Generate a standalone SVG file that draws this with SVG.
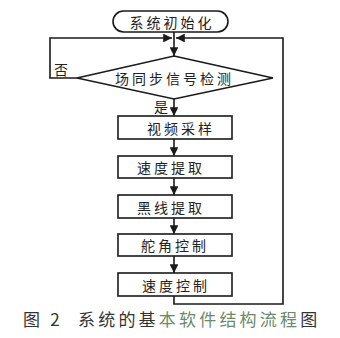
<svg xmlns="http://www.w3.org/2000/svg" width="340" height="338" viewBox="0 0 340 338">
<style>
.s{fill:#fff;stroke:#1a1a1a;stroke-width:1.6}
.c{fill:none;stroke:#1a1a1a;stroke-width:1.6}
.t{font-family:"Noto Sans CJK SC",sans-serif;font-size:14px;letter-spacing:3px;fill:#222;text-anchor:middle;dominant-baseline:central}
.l{font-family:"Noto Sans CJK SC",sans-serif;font-size:14px;fill:#222;text-anchor:middle;dominant-baseline:central}
.cap{font-family:"Noto Sans CJK SC",sans-serif;font-size:17px;fill:#333;letter-spacing:3.2px}
</style>
<defs>
<marker id="a" viewBox="0 0 10 10" refX="10" refY="5" markerWidth="5.5" markerHeight="5.5" orient="auto" markerUnits="strokeWidth">
<path d="M0,0 L10,5 L0,10 Z" fill="#1a1a1a"/>
</marker>
</defs>
<rect width="340" height="338" fill="#fff"/>
<g id="connectors">
<path class="c" d="M174,32 V56" marker-end="url(#a)"/>
<path class="c" d="M77,78 H50 V38 H172" marker-end="url(#a)"/>
<path class="c" d="M174,296 V304 H283 V38 H176" marker-end="url(#a)"/>
<path class="c" d="M174,99 V116" marker-end="url(#a)"/>
<path class="c" d="M174,139 V156" marker-end="url(#a)"/>
<path class="c" d="M174,178 V195" marker-end="url(#a)"/>
<path class="c" d="M174,218 V234" marker-end="url(#a)"/>
<path class="c" d="M174,256 V273" marker-end="url(#a)"/>
<text class="l" x="61" y="69">否</text>
<text class="l" x="161" y="106">是</text>
</g>
<g id="start">
<rect class="s" x="113" y="11" width="115" height="21" rx="10.5"/>
<text class="t" x="172" y="21.5">系统初始化</text>
</g>
<g id="detect">
<polygon class="s" points="174,56 273,78 174,99 77,78"/>
<text class="t" x="174.5" y="78">场同步信号检测</text>
</g>
<g id="sample">
<rect class="s" x="118" y="116" width="114" height="23"/>
<text class="t" x="181" y="127.5">视频采样</text>
</g>
<g id="speed">
<rect class="s" x="118" y="156" width="114" height="22"/>
<text class="t" x="171" y="167">速度提取</text>
</g>
<g id="black">
<rect class="s" x="118" y="195" width="114" height="23"/>
<text class="t" x="171" y="206.5">黑线提取</text>
</g>
<g id="rudder">
<rect class="s" x="118" y="234" width="114" height="22"/>
<text class="t" x="175" y="245">舵角控制</text>
</g>
<g id="speedctl">
<rect class="s" x="118" y="273" width="114" height="23"/>
<text class="t" x="176" y="284.5">速度控制</text>
</g>
<text class="cap" x="23" y="326">图 2<tspan x="78">系统的基</tspan><tspan fill="#6a8a6a">本软件结构流程</tspan>图</text>
</svg>
